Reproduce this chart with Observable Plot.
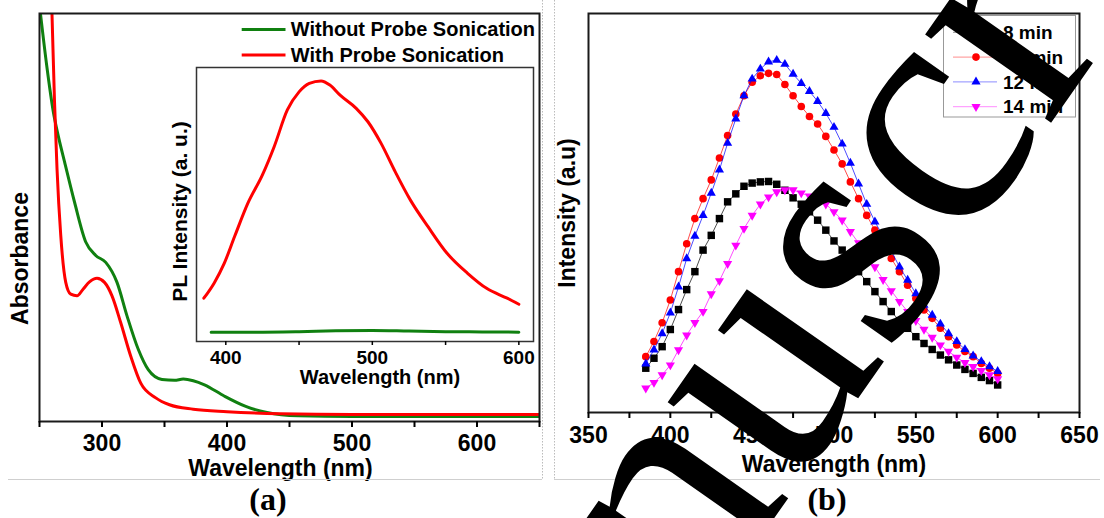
<!DOCTYPE html>
<html><head><meta charset="utf-8">
<script src="https://cdn.jsdelivr.net/npm/d3@7"></script>
<script src="https://cdn.jsdelivr.net/npm/@observablehq/plot@0.6"></script>
<style>
html,body{margin:0;padding:0;background:#fff;}
#root{position:relative;width:1104px;height:518px;overflow:hidden;background:#fff;font-family:"Liberation Sans",Arial,sans-serif;}
</style></head><body><div id="root"></div>
<script>
// ---------- Panel (a): absorbance ----------
const absGreenWl  = [250, 256, 261, 265, 270, 278, 287, 295, 303, 312, 320, 329, 337, 348, 358, 365, 373, 382, 398, 415, 432, 457, 500, 560, 650];
const absGreenVal = [1.02, 0.867, 0.76, 0.70, 0.637, 0.538, 0.44, 0.407, 0.39, 0.341, 0.259, 0.177, 0.127, 0.103, 0.101, 0.104, 0.10, 0.09, 0.062, 0.037, 0.022, 0.014, 0.012, 0.012, 0.012];
const absRedWl    = [257, 260, 262, 264, 267, 271, 275, 280, 285, 290, 296, 302, 308, 315, 323, 331, 343, 354, 373, 400, 443, 500, 580, 650];
const absRedVal   = [1.3, 0.998, 0.785, 0.62, 0.456, 0.341, 0.312, 0.308, 0.325, 0.342, 0.351, 0.341, 0.308, 0.242, 0.16, 0.094, 0.058, 0.041, 0.030, 0.024, 0.019, 0.017, 0.017, 0.017];
const absTicks    = [250, 300, 350, 400, 450, 500, 550, 600, 650];
const legendALabels = ["Without Probe Sonication", "With Probe Sonication"];

// ---------- Inset: PL ----------
const plRedWl    = [385, 392, 399, 406, 415, 425, 433, 442, 450, 457, 465, 471, 478, 489, 497, 506, 515, 526, 538, 551, 565, 578, 592, 600];
const plRedVal   = [0.158, 0.213, 0.286, 0.383, 0.504, 0.608, 0.711, 0.845, 0.911, 0.942, 0.951, 0.936, 0.899, 0.851, 0.802, 0.723, 0.626, 0.516, 0.419, 0.322, 0.249, 0.194, 0.158, 0.136];
const plGreenWl  = [390, 420, 450, 475, 500, 525, 550, 575, 600];
const plGreenVal = [0.034, 0.034, 0.036, 0.039, 0.040, 0.038, 0.036, 0.035, 0.034];
const plTicks    = [400, 450, 500, 550, 600];

// ---------- Panel (b): intensity vs time ----------
const pbWavelength = [385,390,395,400,405,410,415,420,425,430,435,440,445,450,455,460,465,470,475,480,485,490,495,500,505,510,515,520,525,530,535,540,545,550,555,560,565,570,575,580,585,590,595,600];
const int8  = [.111,.136,.165,.208,.258,.308,.353,.407,.444,.486,.528,.548,.567,.575,.578,.579,.572,.557,.538,.522,.503,.482,.457,.430,.407,.382,.353,.328,.303,.278,.253,.230,.211,.190,.173,.158,.144,.132,.119,.108,.098,.088,.080,.069];
const int10 = [.140,.178,.225,.282,.353,.423,.486,.536,.583,.638,.694,.748,.794,.828,.844,.850,.847,.822,.794,.767,.742,.723,.692,.658,.623,.578,.536,.494,.457,.419,.386,.353,.319,.286,.257,.236,.211,.190,.169,.153,.140,.123,.111,.098];
const int12 = [.122,.157,.198,.250,.315,.386,.442,.494,.550,.608,.675,.736,.794,.836,.861,.879,.883,.873,.848,.825,.805,.780,.750,.715,.673,.625,.573,.522,.478,.442,.405,.365,.332,.298,.269,.244,.222,.198,.178,.158,.142,.128,.115,.103];
const int14 = [.061,.075,.094,.119,.157,.194,.225,.253,.297,.330,.373,.419,.461,.494,.522,.540,.553,.558,.558,.550,.542,.533,.522,.503,.482,.453,.425,.394,.365,.333,.305,.278,.253,.230,.208,.188,.169,.153,.138,.125,.115,.105,.094,.084];
const pbSeriesNames = ["8 min", "10 min", "12 min", "14 min"];
const pbTicks = [350,375,400,425,450,475,500,525,550,575,600,625,650];

// ---------- helpers ----------
const GREEN = "#108010", RED = "#ff0000";
const sansFont = '"Liberation Sans", Arial, sans-serif';
const serifFont = '"Liberation Serif", "Times New Roman", serif';
const root = document.getElementById("root");
function place(el, left, top) {
  el.style.position = "absolute"; el.style.left = left + "px"; el.style.top = top + "px";
  root.appendChild(el);
}
const zip = (xs, ys) => xs.map((x, i) => ({x, y: ys[i]}));
const baseStyle = {fontFamily: sansFont, fontWeight: "bold", color: "#000", background: "transparent", overflow: "visible"};

const sqrt3 = Math.sqrt(3);
const triangleDown = {
  draw(context, size) {
    const y = -Math.sqrt(size / (sqrt3 * 3));
    context.moveTo(0, -y * 2);
    context.lineTo(-sqrt3 * y, y);
    context.lineTo(sqrt3 * y, y);
    context.closePath();
  }
};
const title = (t, o) => Plot.text([t], {text: d => d, textAnchor: "middle", lineAnchor: "middle", ...o});

// ---------- Panel (a) ----------
const panelA = Plot.plot({
  width: 545, height: 480, marginLeft: 39, marginRight: 6, marginTop: 13, marginBottom: 59,
  x: {domain: [250, 650], label: null},
  y: {domain: [0, 1], axis: null},
  style: {...baseStyle, fontSize: "23px"},
  marks: [
    Plot.line(zip(absGreenWl, absGreenVal), {x: "x", y: "y", stroke: GREEN, strokeWidth: 3, curve: "monotone-x", clip: true}),
    Plot.line(zip(absRedWl, absRedVal), {x: "x", y: "y", stroke: RED, strokeWidth: 3, curve: "monotone-x", clip: true}),
    Plot.frame({stroke: "#1a1a1a", strokeWidth: 2}),
    Plot.axisX({ticks: absTicks, tickFormat: d => d % 100 === 0 ? String(d) : "", tickSize: 6, tickPadding: 7, strokeWidth: 2, label: null, fontSize: 23}),
    title("Wavelength (nm)", {frameAnchor: "bottom", dy: 47, dx: -9, fontSize: 23}),
    title("Absorbance", {frameAnchor: "left", dx: -19, dy: 41, rotate: -90, fontSize: 23})
  ]
});
place(panelA, 0, 0);

// ---------- Inset ----------
const inset = Plot.plot({
  width: 400, height: 350, marginLeft: 46, marginRight: 17, marginTop: 17, marginBottom: 59,
  x: {domain: [380, 610], label: null},
  y: {domain: [0, 1], axis: null},
  style: {...baseStyle, fontSize: "19px"},
  marks: [
    Plot.frame({fill: "white"}),
    Plot.line(zip(plGreenWl, plGreenVal), {x: "x", y: "y", stroke: GREEN, strokeWidth: 3, curve: "monotone-x"}),
    Plot.line(zip(plRedWl, plRedVal), {x: "x", y: "y", stroke: RED, strokeWidth: 3, curve: "monotone-x"}),
    Plot.frame({stroke: "#333", strokeWidth: 1.5}),
    Plot.axisX({ticks: plTicks, tickFormat: d => d % 100 === 0 ? String(d) : "", tickSize: 4, tickPadding: 5, strokeWidth: 1.5, label: null, fontSize: 19}),
    title("Wavelength (nm)", {frameAnchor: "bottom", dy: 36, dx: 15, fontSize: 20}),
    title("PL Intensity (a. u.)", {frameAnchor: "left", dx: -16, dy: 7, rotate: -90, fontSize: 21})
  ]
});
place(inset, 150, 50);

// ---------- Panel (b) ----------
const pbColors = ["#000000", "#ff0000", "#0000ff", "#ff00ff"];
const pbSymbols = ["square", "circle", "triangle", triangleDown];
const pbR = [4.2, 3.8, 3.4, 3.4];
const pbData = [int8, int10, int12, int14];
const pbMarks = [];
pbData.forEach((vals, i) => {
  const d = zip(pbWavelength, vals);
  pbMarks.push(Plot.line(d, {x: "x", y: "y", stroke: pbColors[i], strokeWidth: 1, strokeOpacity: 0.7}));
  pbMarks.push(Plot.dot(d, {x: "x", y: "y", symbol: pbSymbols[i], fill: pbColors[i], stroke: "none", r: pbR[i]}));
});
const panelB = Plot.plot({
  width: 554, height: 480, marginLeft: 38, marginRight: 25, marginTop: 13, marginBottom: 68,
  x: {domain: [350, 650], label: null},
  y: {domain: [0, 1], axis: null},
  style: {...baseStyle, fontSize: "23px"},
  marks: [
    ...pbMarks,
    Plot.frame({stroke: "#1a1a1a", strokeWidth: 2}),
    Plot.axisX({ticks: pbTicks, tickFormat: d => d % 50 === 0 ? String(d) : "", tickSize: 6, tickPadding: 8, strokeWidth: 2, label: null, fontSize: 23}),
    title("Wavelength (nm)", {frameAnchor: "bottom", dy: 52, dx: 0, fontSize: 23}),
    title("Intensity (a.u)", {frameAnchor: "left", dx: -21, dy: 0, rotate: -90, fontSize: 23})
  ]
});
place(panelB, 550, 0);

// ---------- Overlay: legends, panel labels, borders, watermark ----------
const ov = d3.create("svg").attr("width", 1104).attr("height", 518)
  .attr("font-family", sansFont).attr("font-weight", "bold");
const gray = "#cfcfcf";
ov.append("line").attr("x1", 8).attr("x2", 542).attr("y1", 479.5).attr("y2", 479.5).attr("stroke", gray);
ov.append("line").attr("x1", 554).attr("x2", 1100).attr("y1", 479.5).attr("y2", 479.5).attr("stroke", gray);
[542.5, 554.5].forEach(x => ov.append("line").attr("x1", x).attr("x2", x).attr("y1", 0).attr("y2", 480)
  .attr("stroke", "#bbb").attr("stroke-dasharray", "1.5,1.5"));

// legend (a)
const legA = ov.append("g");
[GREEN, RED].forEach((c, i) => {
  const y = 29.4 + i * 25.5;
  legA.append("line").attr("x1", 241.7).attr("x2", 285.5).attr("y1", y).attr("y2", y).attr("stroke", c).attr("stroke-width", 3);
  legA.append("text").attr("x", 290.8).attr("y", y).attr("dy", "0.35em").attr("font-size", 20).text(legendALabels[i]);
});

// legend (b)
const legB = ov.append("g");
legB.append("rect").attr("x", 943.5).attr("y", 15.5).attr("width", 132).attr("height", 101.5)
  .attr("fill", "white").attr("stroke", "#999").attr("stroke-width", 1);
const d3Symbols = [d3.symbolSquare, d3.symbolCircle, d3.symbolTriangle, triangleDown];
pbSeriesNames.forEach((name, i) => {
  const y = 32.3 + i * 24.8;
  legB.append("line").attr("x1", 953).attr("x2", 997).attr("y1", y).attr("y2", y)
    .attr("stroke", pbColors[i]).attr("stroke-width", 1).attr("stroke-opacity", 0.45);
  legB.append("path").attr("transform", `translate(976,${y})`)
    .attr("d", d3.symbol(d3Symbols[i], Math.PI * pbR[i] * pbR[i])()).attr("fill", pbColors[i]);
  legB.append("text").attr("x", 1003).attr("y", y).attr("dy", "0.35em").attr("font-size", 19).text(name);
});

// panel captions
ov.append("text").attr("x", 268).attr("y", 510).attr("text-anchor", "middle")
  .attr("font-family", serifFont).attr("font-size", 32).attr("font-weight", "bold").text("(a)");
ov.append("text").attr("x", 827).attr("y", 510).attr("text-anchor", "middle")
  .attr("font-family", serifFont).attr("font-size", 32).attr("font-weight", "bold").text("(b)");

// watermark
ov.append("text").attr("transform", "translate(438.9,997) rotate(-55)")
  .attr("font-family", serifFont).attr("font-weight", "normal").attr("font-size", 335)
  .attr("fill", "#000").text("Manuscript");

place(ov.node(), 0, 0);
</script></body></html>
